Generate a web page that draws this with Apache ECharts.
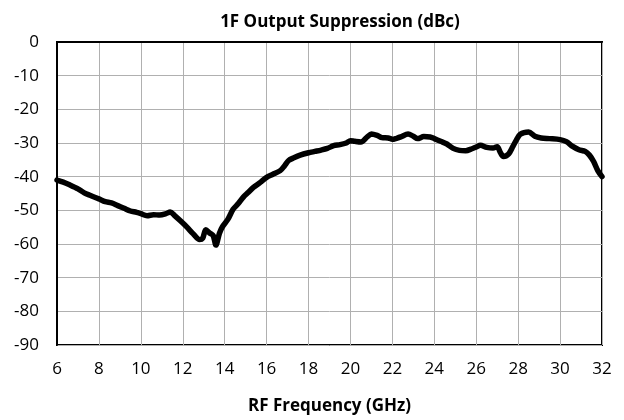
<!DOCTYPE html>
<html>
<head>
<meta charset="utf-8">
<script src="https://cdn.jsdelivr.net/npm/echarts@6/dist/echarts.min.js"></script>
<style>html,body{margin:0;padding:0;background:#fff}#c{width:624px;height:420px}</style>
</head>
<body>
<div id="c"></div>
<script>
const freqGHz = [6.0,6.3,6.6,7.0,7.3,7.6,8.0,8.3,8.6,8.9,9.2,9.5,9.8,10.0,10.3,10.6,10.9,11.2,11.4,11.6,11.9,12.2,12.5,12.8,12.95,13.1,13.3,13.45,13.58,13.75,13.9,14.15,14.4,14.65,14.9,15.1,15.37,15.7,16.0,16.3,16.65,16.85,17.05,17.3,17.6,18.0,18.3,18.6,18.9,19.2,19.5,19.8,20.0,20.2,20.5,20.8,21.0,21.3,21.5,21.8,22.0,22.2,22.4,22.75,23.0,23.2,23.5,23.8,24.0,24.3,24.6,24.9,25.2,25.5,25.8,26.0,26.2,26.5,26.8,27.0,27.15,27.3,27.55,27.75,27.9,28.1,28.5,28.8,29.1,29.5,30.0,30.3,30.6,30.9,31.2,31.4,31.6,31.8,32.0];
const suppressionDBc = [-41,-41.6,-42.4,-43.6,-44.8,-45.6,-46.6,-47.4,-47.8,-48.6,-49.4,-50.2,-50.6,-51.0,-51.6,-51.3,-51.4,-51.0,-50.5,-51.5,-53.2,-55.0,-57.0,-58.7,-58.3,-55.8,-56.8,-57.5,-60.3,-56.8,-54.8,-52.7,-49.7,-48.0,-46.0,-44.8,-43.2,-41.7,-40.2,-39.3,-38.2,-36.8,-35.2,-34.4,-33.6,-32.9,-32.5,-32.1,-31.6,-30.8,-30.5,-30.0,-29.3,-29.5,-29.7,-28.2,-27.3,-27.8,-28.4,-28.5,-28.9,-28.6,-28.2,-27.3,-28.0,-28.7,-28.1,-28.2,-28.7,-29.5,-30.3,-31.6,-32.2,-32.3,-31.7,-31.2,-30.7,-31.3,-31.5,-31.1,-32.8,-34.0,-33.2,-31.0,-29.3,-27.4,-26.7,-28.0,-28.5,-28.7,-29.0,-29.6,-31.0,-32.0,-32.5,-33.6,-35.5,-38.2,-40.0];
const titleText = "1F Output Suppression (dBc)";
const xName = "RF Frequency (GHz)";

const chart = echarts.init(document.getElementById('c'), null, {renderer:'canvas'});
const font = '"Open Sans", "Liberation Sans", sans-serif';
chart.setOption({
  animation:false,
  backgroundColor:'#fff',
  title:{text:titleText,left:335,top:9,textAlign:'center',textStyle:{fontFamily:font,fontWeight:'bold',fontSize:17,color:'#000'}},
  grid:{left:57,right:22,top:42,bottom:75,show:true,borderColor:'#000',borderWidth:2,containLabel:false},
  xAxis:{type:'value',min:6,max:32,interval:2,
    name:xName,nameLocation:'middle',nameGap:53,
    nameTextStyle:{fontFamily:font,fontWeight:'bold',fontSize:17,color:'#000'},
    axisLine:{show:true,lineStyle:{color:'#000',width:2}},
    axisTick:{show:false},
    axisLabel:{fontFamily:font,fontSize:17,color:'#000',margin:16},
    splitLine:{show:true,lineStyle:{color:'#b0b0b0',width:1}}},
  yAxis:{type:'value',min:-90,max:0,interval:10,
    axisLine:{show:true,lineStyle:{color:'#000',width:2}},
    axisTick:{show:false},
    axisLabel:{fontFamily:font,fontSize:17,color:'#000',margin:18},
    splitLine:{show:true,lineStyle:{color:'#b0b0b0',width:1}}},
  series:[{type:'line',data:freqGHz.map((f,i)=>[f,suppressionDBc[i]]),
    showSymbol:false,smooth:0.3,lineStyle:{color:'#000',width:5.5,join:'round',cap:'round'},clip:false}]
});
</script>
</body>
</html>
